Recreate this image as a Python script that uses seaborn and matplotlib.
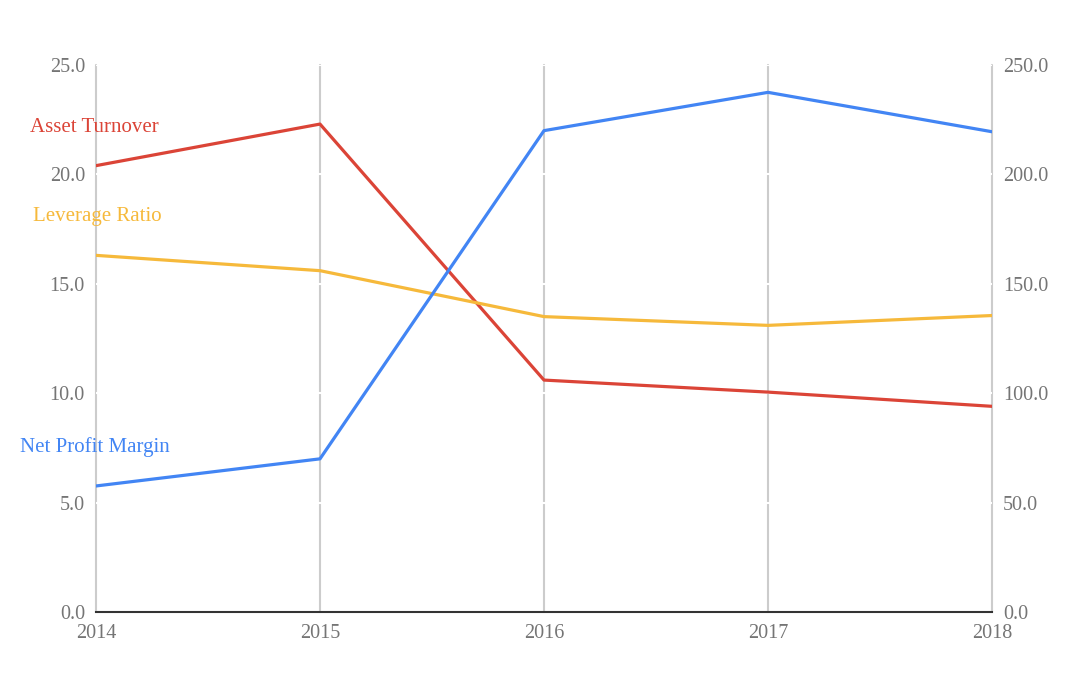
import seaborn as sns
import matplotlib.pyplot as plt
import pandas as pd

# Data
years = [2014, 2015, 2016, 2017, 2018]
asset_turnover = [20.4, 22.3, 10.6, 10.05, 9.4]
leverage_ratio = [16.3, 15.6, 13.5, 13.1, 13.55]
net_profit_margin = [57.6, 70.0, 220.0, 237.5, 219.5]

red = "#DB4437"
yellow = "#F6B93B"
blue = "#4285F4"
gray_text = "#757575"

sns.set_style("white")
plt.rcParams['font.family'] = ['Liberation Serif', 'DejaVu Serif']

df = pd.DataFrame({
    "year": years,
    "Asset Turnover": asset_turnover,
    "Leverage Ratio": leverage_ratio,
    "Net Profit Margin": net_profit_margin,
})

fig = plt.figure(figsize=(10.8, 6.75), dpi=100)
ax = fig.add_axes([96 / 1080, 1 - 612 / 675, (992 - 96) / 1080, (612 - 65) / 675])
ax2 = ax.twinx()

sns.lineplot(data=df, x="year", y="Asset Turnover", ax=ax, color=red, lw=2.3)
sns.lineplot(data=df, x="year", y="Leverage Ratio", ax=ax, color=yellow, lw=2.3)
sns.lineplot(data=df, x="year", y="Net Profit Margin", ax=ax2, color=blue, lw=2.3)

ax.set_xlim(2014, 2018)
ax.set_ylim(0, 25)
ax2.set_ylim(0, 250)
ax.set_xticks(years)
ax.set_xticklabels([str(y) for y in years])
ax.set_yticks([0, 5, 10, 15, 20, 25])
ax.set_yticklabels([f"{v:.1f}" for v in [0, 5, 10, 15, 20, 25]])
ax2.set_yticks([0, 50, 100, 150, 200, 250])
ax2.set_yticklabels([f"{v:.1f}" for v in [0, 50, 100, 150, 200, 250]])

for a in (ax, ax2):
    a.set_xlabel("")
    a.set_ylabel("")
    for s in a.spines.values():
        s.set_visible(False)
    a.tick_params(length=0, labelsize=14.5, labelcolor=gray_text)

ax.tick_params(axis="y", pad=8)
ax2.tick_params(axis="y", pad=8)
ax.tick_params(axis="x", pad=9)

# vertical grid lines, with thin white breaks at the y ticks
ax.grid(axis="x", color="#CCCCCC", lw=1.5)
ax.grid(axis="y", color="white", lw=1.5)
for gl in ax.get_xgridlines():
    gl.set_clip_on(False)
ax.spines["bottom"].set_visible(True)
ax.spines["bottom"].set_color("#333333")
ax.spines["bottom"].set_linewidth(1.5)
ax.spines["bottom"].set_zorder(5)

# series labels at the left
fig.text(30 / 1080, 1 - 128 / 675, "Asset Turnover", color=red, fontsize=15, va="center", ha="left")
fig.text(33 / 1080, 1 - 217 / 675, "Leverage Ratio", color=yellow, fontsize=15, va="center", ha="left")
fig.text(20 / 1080, 1 - 447 / 675, "Net Profit Margin", color=blue, fontsize=15, va="center", ha="left")

fig.savefig("out.png", dpi=100)
